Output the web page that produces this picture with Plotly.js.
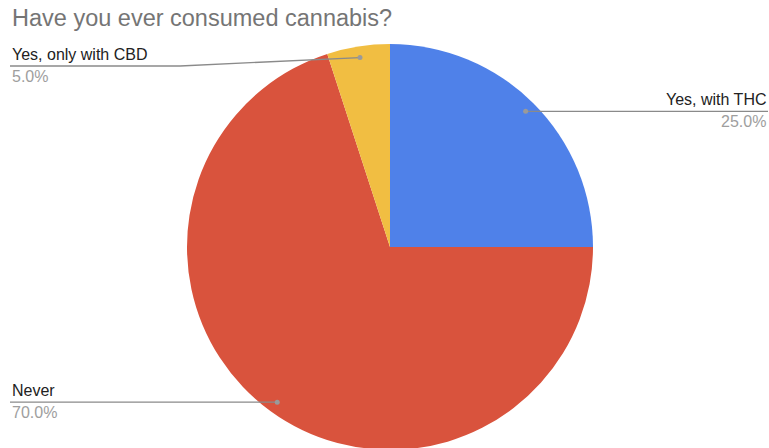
<!DOCTYPE html>
<html><head><meta charset="utf-8">
<script src="https://cdn.plot.ly/plotly-3.0.1.min.js"></script>
<style>html,body{margin:0;padding:0;overflow:hidden;background:#fff}#chart{width:769px;height:460px}</style>
</head><body><div id="chart"></div>
<script>
const categories = ["Yes, with THC", "Never", "Yes, only with CBD"];
const values = [25, 70, 5];
const colors = ["#4F81E9", "#D9533D", "#F1BE42"];
const titleText = "Have you ever consumed cannabis?";

const W = 769, H = 460;
const cx = 390, cy = 247, R = 203;
const px = x => x / W, py = y => 1 - y / H;

const total = values.reduce((a, b) => a + b, 0);
let cum = 0;
const dots = values.map(v => {
  const mid = (cum + v / 2) / total * 2 * Math.PI;
  cum += v;
  return {x: cx + 0.945 * R * Math.sin(mid), y: cy - 0.945 * R * Math.cos(mid)};
});

const labelSide = ["right", "left", "left"];
const shapes = [], annotations = [];
const lineCol = "#8a8a8a";
const fontFam = "Liberation Sans, Arial, sans-serif";
values.forEach((v, i) => {
  const d = dots[i];
  let ly = d.y;
  const pct = (v / total * 100).toFixed(1) + "%";
  let lx;
  if (labelSide[i] === "right") {
    lx = 768;
    shapes.push({type: "line", xref: "paper", yref: "paper", x0: px(d.x), y0: py(d.y), x1: px(lx), y1: py(ly), line: {color: lineCol, width: 1.3}});
  } else {
    lx = 10;
    if (i === 2) {
      ly = 66;
      const elbow = 180;
      shapes.push({type: "line", xref: "paper", yref: "paper", x0: px(d.x), y0: py(d.y), x1: px(elbow), y1: py(ly), line: {color: lineCol, width: 1.3}});
      shapes.push({type: "line", xref: "paper", yref: "paper", x0: px(elbow), y0: py(ly), x1: px(lx), y1: py(ly), line: {color: lineCol, width: 1.3}});
    } else {
      shapes.push({type: "line", xref: "paper", yref: "paper", x0: px(d.x), y0: py(d.y), x1: px(lx), y1: py(ly), line: {color: lineCol, width: 1.3}});
    }
  }
  shapes.push({type: "circle", xref: "paper", yref: "paper", x0: px(d.x - 2.5), x1: px(d.x + 2.5), y0: py(d.y - 2.5), y1: py(d.y + 2.5), fillcolor: "#9a9a9a", line: {width: 0}});
  const anchor = labelSide[i] === "right" ? "right" : "left";
  annotations.push({xref: "paper", yref: "paper", x: px(lx), y: py(ly - 1), xanchor: anchor, yanchor: "bottom", text: categories[i], showarrow: false, font: {family: fontFam, size: 16, color: "#222222"}});
  annotations.push({xref: "paper", yref: "paper", x: px(lx), y: py(ly), xanchor: anchor, yanchor: "top", text: pct, showarrow: false, font: {family: fontFam, size: 16, color: "#9e9e9e"}});
});

annotations.push({xref: "paper", yref: "paper", x: px(10), y: py(18), xanchor: "left", yanchor: "middle", text: titleText, showarrow: false, font: {family: fontFam, size: 23.5, color: "#757575"}});

const trace = {
  type: "pie", labels: categories, values: values, sort: false, direction: "clockwise", rotation: 0,
  marker: {colors: colors, line: {width: 0}}, textinfo: "none", hoverinfo: "none",
  domain: {x: [(cx - R) / W, (cx + R) / W], y: [1 - (cy + R) / H, 1 - (cy - R) / H]}
};
Plotly.newPlot("chart", [trace], {
  width: W, height: H, margin: {l: 0, r: 0, t: 0, b: 0}, showlegend: false,
  paper_bgcolor: "#fff", shapes: shapes, annotations: annotations
}, {staticPlot: true});
</script></body></html>
